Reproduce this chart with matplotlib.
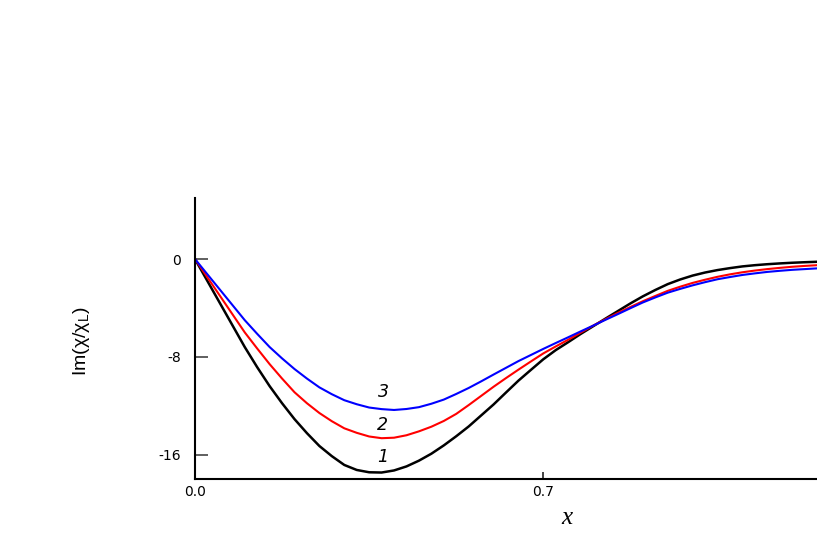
import matplotlib
matplotlib.use('Agg')
import matplotlib.pyplot as plt

# values
x = [0.0, 0.025, 0.05, 0.075, 0.1, 0.125, 0.15, 0.175, 0.2, 0.225,
     0.25, 0.275, 0.3, 0.325, 0.35, 0.375, 0.4, 0.425, 0.45, 0.475,
     0.5, 0.525, 0.55, 0.575, 0.6, 0.625, 0.65, 0.675, 0.7, 0.725,
     0.75, 0.775, 0.8, 0.825, 0.85, 0.875, 0.9, 0.925, 0.95, 0.975,
     1.0, 1.025, 1.05, 1.075, 1.1, 1.125, 1.15, 1.175, 1.2, 1.225, 1.25]
curve1 = [0, -1.8, -3.6, -5.4, -7.2, -8.85, -10.4, -11.8, -13.1, -14.25,
          -15.3, -16.13, -16.85, -17.26, -17.45, -17.47, -17.3, -16.97, -16.5, -15.93,
          -15.25, -14.5, -13.7, -12.8, -11.9, -10.92, -9.95, -9.07, -8.2, -7.45,
          -6.8, -6.13, -5.5, -4.87, -4.25, -3.63, -3.05, -2.53, -2.05, -1.67,
          -1.35, -1.1, -0.9, -0.74, -0.6, -0.5, -0.42, -0.355, -0.3, -0.258, -0.22]
curve2 = [0, -1.5, -3.0, -4.5, -6.0, -7.32, -8.6, -9.78, -10.9, -11.8,
          -12.6, -13.27, -13.85, -14.22, -14.52, -14.66, -14.62, -14.42, -14.1, -13.72,
          -13.25, -12.67, -11.95, -11.2, -10.45, -9.74, -9.05, -8.38, -7.72, -7.15,
          -6.6, -6.02, -5.45, -4.92, -4.4, -3.92, -3.45, -3.02, -2.6, -2.26,
          -1.95, -1.69, -1.45, -1.25, -1.08, -0.94, -0.82, -0.72, -0.63, -0.56, -0.5]
curve3 = [0, -1.25, -2.5, -3.75, -5.0, -6.12, -7.2, -8.13, -9.0, -9.78,
          -10.5, -11.06, -11.55, -11.88, -12.15, -12.28, -12.35, -12.27, -12.12, -11.84,
          -11.5, -11.04, -10.55, -10.01, -9.45, -8.9, -8.35, -7.85, -7.35, -6.87,
          -6.4, -5.92, -5.45, -4.97, -4.5, -4.02, -3.55, -3.14, -2.75, -2.44,
          -2.15, -1.89, -1.65, -1.47, -1.3, -1.17, -1.05, -0.96, -0.88, -0.82, -0.76]

labels = ['1', '2', '3']
label_x = [0.378, 0.376, 0.378]
label_y = [-16.2, -13.6, -10.9]
colors = ['black', 'red', 'blue']

xticks = [0.0, 0.7]
xtick_labels = ['0.0', '0.7']
yticks = [0, -8, -16]
ytick_labels = ['0', '-8', '-16']

fig = plt.figure(figsize=(8.17, 5.45), dpi=100)
ax = fig.add_axes([195 / 817, 1 - 479 / 545, 1 - 195 / 817, 281 / 545])

for ys, c, lw in zip([curve1, curve2, curve3], colors, [1.8, 1.5, 1.5]):
    ax.plot(x, ys, color=c, lw=lw, solid_joinstyle='round')

for lab, lx, ly in zip(labels, label_x, label_y):
    ax.text(lx, ly, lab, fontsize=12.5, style='italic', ha='center', va='center',
            family='DejaVu Sans')

ax.set_xlim(0, 1.25)
ax.set_ylim(-18, 5)

for s in ['top', 'right']:
    ax.spines[s].set_visible(False)
for s in ['left', 'bottom']:
    ax.spines[s].set_linewidth(1.5)

ax.set_xticks(xticks)
ax.set_xticklabels(xtick_labels, family='DejaVu Sans', fontsize=10)
ax.set_yticks(yticks)
ax.set_yticklabels(ytick_labels, family='DejaVu Sans', fontsize=10)
ax.tick_params(axis='y', direction='in', length=9, width=1.2, color='#444444', pad=10)
ax.tick_params(axis='x', direction='in', length=5, width=1.2, color='#222222', pad=4)

ax.set_xlabel('x', fontsize=18, style='italic', family='Liberation Serif')
ax.xaxis.set_label_coords((567 - 195) / 622, -0.10)
ax.set_ylabel('Im(χ/χ$_\\mathregular{L}$)', fontsize=14,
              family=['Liberation Sans Narrow', 'Liberation Sans'])
ax.yaxis.set_label_coords(-(195 - 92) / 622, 0.49)

fig.savefig('out.png')
